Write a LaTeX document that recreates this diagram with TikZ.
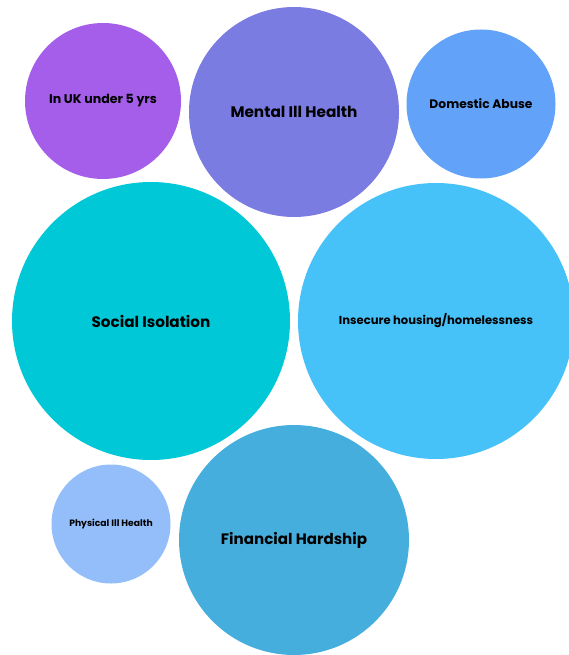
\documentclass[tikz,border=0pt]{standalone}
\usepackage{fontspec}
\setmainfont{Poppins}
\definecolor{ukpurple}{HTML}{A55EEA}
\definecolor{mentalblue}{HTML}{7B7CE1}
\definecolor{abuseblue}{HTML}{62A3F9}
\definecolor{isolationcyan}{HTML}{00C8D7}
\definecolor{housingblue}{HTML}{47C2F8}
\definecolor{physicalblue}{HTML}{93BEF9}
\definecolor{hardshipblue}{HTML}{46AEDC}
\begin{document}
	\begin{tikzpicture}[x=1pt, y=-1pt,
		bubble/.style={circle, inner sep=0pt, text=black},
		textsize/.style={font=\bfseries\fontsize{#1}{#1}\selectfont}]
		\useasboundingbox (0,0) rectangle (569,655);
		\node (uk) [bubble, textsize=12.6, fill=ukpurple, minimum size=156pt] at (103,101) {In UK under 5 yrs};
		\node (mental) [bubble, textsize=15.3, fill=mentalblue, minimum size=210pt] at (294,112) {Mental Ill Health};
		\node (abuse) [bubble, textsize=12.3, fill=abuseblue, minimum size=149pt] at (481,104) {Domestic Abuse};
		\node (isolation) [bubble, textsize=15.2, fill=isolationcyan, minimum size=278pt] at (151,321) {Social Isolation};
		\node (housing) [bubble, textsize=11.6, fill=housingblue, minimum size=276pt] at (436,321) {Insecure housing/homelessness};
		\node (physical) [bubble, textsize=9.2, fill=physicalblue, minimum size=119pt] at (111,524) {Physical Ill Health};
		\node (hardship) [bubble, textsize=15.1, fill=hardshipblue, minimum size=230pt] at (294,540) {Financial Hardship};
	\end{tikzpicture}
\end{document}
